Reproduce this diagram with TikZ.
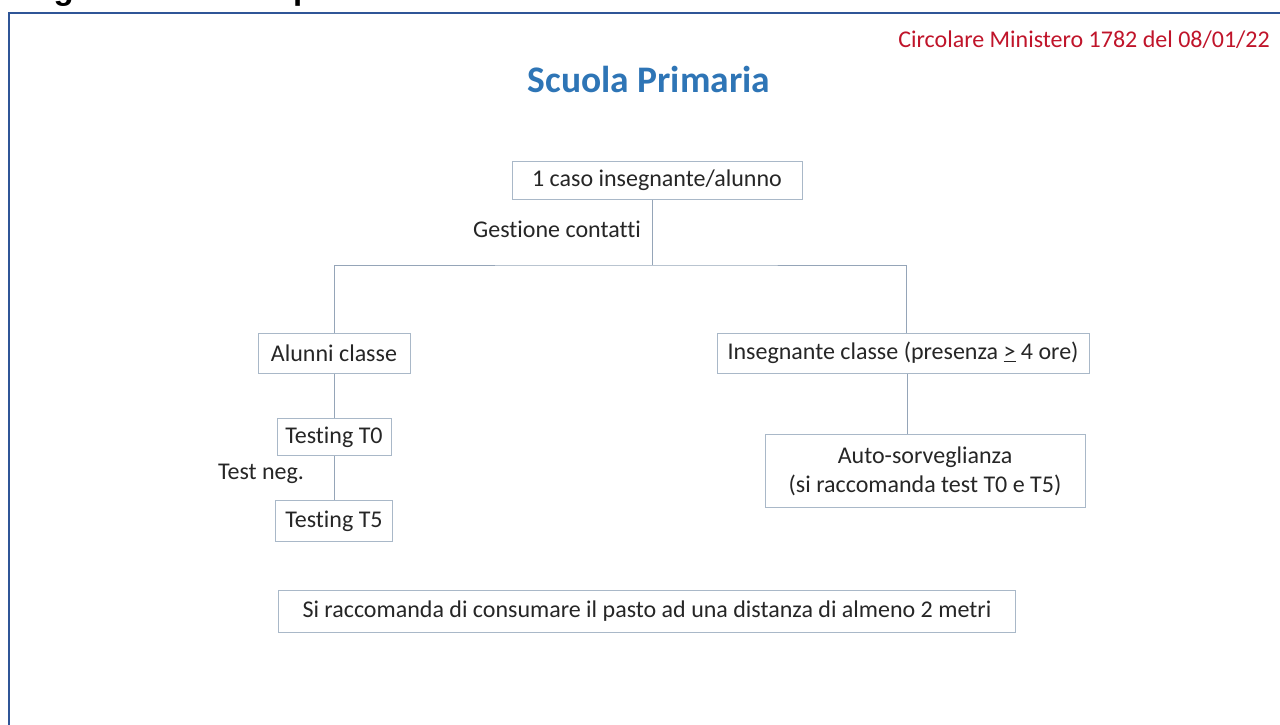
\documentclass[tikz,border=0pt]{standalone}
\usepackage{fontspec}
\setmainfont{Carlito}[Ligatures=NoCommon]
\newfontfamily\headfont{Liberation Sans}
\definecolor{framecol}{HTML}{2F5597}
\definecolor{boxcol}{HTML}{A9B8C8}
\definecolor{linecol}{HTML}{95A5B8}
\definecolor{redtxt}{HTML}{C0142A}
\definecolor{titlecol}{HTML}{2E75B6}
\definecolor{txt}{HTML}{262626}
\begin{document}
\begin{tikzpicture}[x=1pt,y=-1pt,
  stepbox/.style={draw=boxcol,line width=1pt,fill=white,text=txt,font=\fontsize{24}{29}\selectfont,inner sep=0pt,minimum height=38pt,align=center},
  conn/.style={draw=linecol,line width=1pt},
  lbl/.style={text=txt,font=\fontsize{24}{29}\selectfont,inner sep=0pt}]
\useasboundingbox (0,0) rectangle (1280,724);
\fill[white] (0,0) rectangle (1280,724);
\begin{scope}
\clip (0,0) rectangle (1280,6);
\node[anchor=base west,inner sep=0pt,font=\headfont\bfseries\fontsize{33}{38}\selectfont] (hd) at (24,-1) {Figura 4: Scuola primaria};
\end{scope}
\draw[framecol,line width=2pt] (9,730) -- (9,13) -- (1290,13);
\node[anchor=east,inner sep=0pt,text=redtxt,font=\fontsize{24}{29}\selectfont] (circ) at (1270,40) {Circolare Ministero 1782 del 08/01/22};
\node[inner sep=0pt,text=titlecol,font=\bfseries\fontsize{37.5}{44}\selectfont] (title) at (649,79) {Scuola Primaria};
\node[stepbox,minimum width=290pt] (caso) at (657,180) {1 caso insegnante/alunno};
\node[lbl] (gest) at (557,229) {Gestione contatti};
\node[stepbox,minimum width=152pt,minimum height=40pt] (alunni) at (334,353) {Alunni classe};
\node[stepbox,minimum width=372pt,minimum height=40pt] (ins) at (903,353) {Insegnante classe (presenza \underline{>} 4 ore)};
\node[stepbox,minimum width=114pt,minimum height=37pt] (t0) at (334,437) {Testing T0};
\node[lbl] (neg) at (261,474) {Test neg.};
\node[stepbox,minimum width=117pt,minimum height=41pt] (t5) at (334,521) {Testing T5};
\node[stepbox,minimum width=320pt,minimum height=73pt] (auto) at (925,471) {Auto-sorveglianza\\(si raccomanda test T0 e T5)};
\node[stepbox,minimum width=737pt,minimum height=42pt] (pasto) at (647,611) {Si raccomanda di consumare il pasto ad una distanza di almeno 2 metri};
\coordinate (split) at (652,265);
\draw[conn] (caso.south -| split) -- (split);
\draw[conn] (alunni.north) |- (split) -| (ins.north -| 906,0);
\draw[conn] (alunni.south) -- (t0.north);
\draw[conn] (t0.south) -- (t5.north);
\draw[conn] (ins.south -| 907,0) -- (auto.north -| 907,0);
\end{tikzpicture}
\end{document}
